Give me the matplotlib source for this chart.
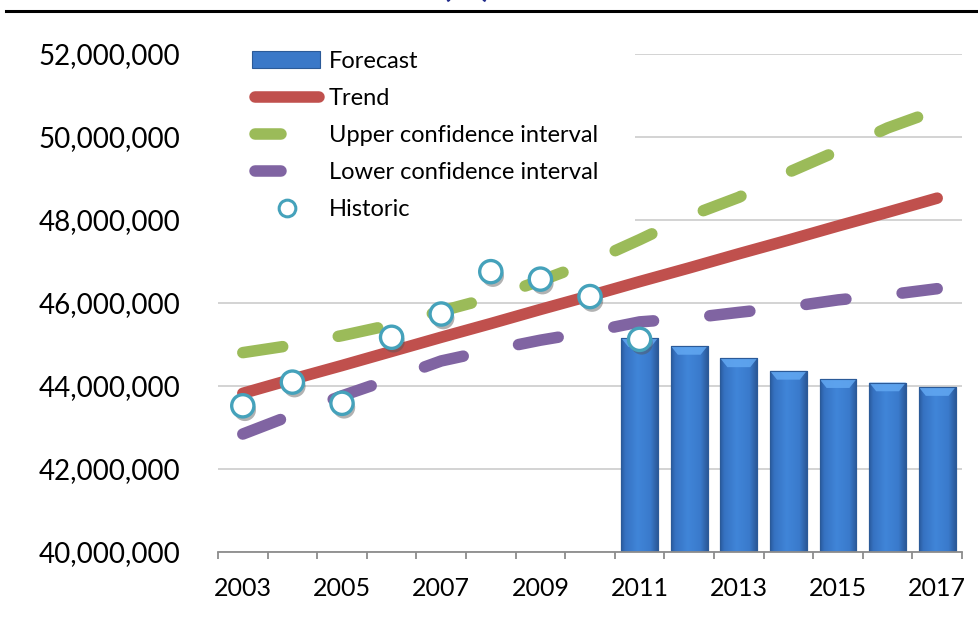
import numpy as np
import matplotlib
matplotlib.use('Agg')
import matplotlib.pyplot as plt
from matplotlib.lines import Line2D
from matplotlib.patches import Rectangle, Polygon
from matplotlib.legend_handler import HandlerLine2D, HandlerPatch
import matplotlib.patheffects as pe
from matplotlib.colors import LinearSegmentedColormap
from matplotlib.ticker import FuncFormatter, MultipleLocator, FixedLocator

plt.rcParams['font.family'] = ['Lato', 'DejaVu Sans']

# ---------------- data ----------------
years = list(range(2003, 2018))
historic_years = list(range(2003, 2012))
historic = [43520000, 44090000, 43580000, 45170000, 45730000,
            46750000, 46570000, 46150000, 45120000]
forecast_years = list(range(2011, 2018))
forecast = [45150000, 44960000, 44660000, 44360000, 44160000, 44080000, 43970000]
trend = [43820000, 44160000, 44490000, 44830000, 45170000, 45500000, 45840000,
         46170000, 46510000, 46840000, 47180000, 47510000, 47850000, 48180000, 48520000]
upper = [44800000, 44980000, 45210000, 45470000, 45800000, 46120000, 46530000,
         46980000, 47520000, 48090000, 48540000, 49140000, 49660000, 50210000, 50640000]
lower = [42840000, 43300000, 43760000, 44170000, 44600000, 44860000, 45100000,
         45300000, 45540000, 45630000, 45770000, 45900000, 46070000, 46190000, 46340000]
tick_years = [2003, 2005, 2007, 2009, 2011, 2013, 2015, 2017]
labels = ['Forecast', 'Trend', 'Upper confidence interval',
          'Lower confidence interval', 'Historic']

# ---------------- style ----------------
RED = '#C0504D'
GREEN = '#9BBB59'
PURPLE = '#8064A2'
BLUE = '#3B7ACA'
LW = 8.3
DASH = (3.5, 4.9)

W, H = 979, 617
fig = plt.figure(figsize=(W / 100, H / 100), dpi=100)
ax = fig.add_axes([218 / W, 1 - 552 / H, 744 / W, (552 - 53.6) / H])

pos = {y: i for i, y in enumerate(years)}
x_all = np.array([pos[y] for y in years])
x_hist = np.array([pos[y] for y in historic_years])
x_fc = np.array([pos[y] for y in forecast_years])

ymin, ymax = 40000000, 52000000
ax.set_xlim(-0.5, len(years) - 0.5)
ax.set_ylim(ymin, ymax)

# bars with gradient
bw = 0.74
bars = ax.bar(x_fc, forecast, width=bw, color=BLUE, edgecolor='#2B5A98',
              linewidth=0.8, zorder=2)
cmap = LinearSegmentedColormap.from_list(
    'barg', [(0, '#2A5A9C'), (0.12, '#3672C2'), (0.45, '#4085D8'),
             (0.8, '#3A7ACB'), (1, '#2A5898')])
grad = np.linspace(0, 1, 256).reshape(1, -1)
for b, xc, v in zip(bars, x_fc, forecast):
    im = ax.imshow(grad, cmap=cmap, aspect='auto',
                   extent=(xc - bw / 2, xc + bw / 2, ymin, v), zorder=2.1,
                   interpolation='bilinear')
    im.set_clip_path(b)
    bev = 0.21e6
    ax.add_patch(Polygon([(xc - bw / 2, v), (xc + bw / 2, v),
                          (xc + bw / 2 - 0.14, v - bev), (xc - bw / 2 + 0.14, v - bev)],
                         closed=True, facecolor='#62A8F2', edgecolor='none',
                         alpha=0.85, zorder=2.2))
    ax.add_patch(Rectangle((xc - bw / 2, ymin), bw, v - ymin, facecolor='none',
                           edgecolor='#2B5A98', lw=0.8, zorder=2.3))
ax.set_xlim(-0.5, len(years) - 0.5)
ax.set_ylim(ymin, ymax)

# lines
ax.plot(x_all, upper, color=GREEN, lw=LW, dashes=DASH,
        dash_capstyle='round', zorder=3)
ax.plot(x_all, lower, color=PURPLE, lw=LW, dashes=DASH,
        dash_capstyle='round', zorder=3)
ax.plot(x_all, trend, color=RED, lw=LW, solid_capstyle='round', zorder=3.5)

# historic markers
ax.scatter(x_hist, historic, s=16.0 ** 2, facecolor='white',
           edgecolor='#45A2BB', linewidth=2.4, zorder=5,
           path_effects=[pe.SimplePatchShadow(offset=(1.5, -3), shadow_rgbFace='#555555',
                                              alpha=0.45), pe.Normal()])

# axes styling
for s in ['left', 'right', 'top']:
    ax.spines[s].set_visible(False)
ax.spines['bottom'].set_color('#8C8C8C')
ax.spines['bottom'].set_linewidth(1.3)
ax.yaxis.set_major_locator(MultipleLocator(2000000))
ax.yaxis.set_major_formatter(FuncFormatter(lambda v, p: f'{v:,.0f}'))
ax.yaxis.grid(True, color='#D0D0D0', lw=1.3)
ax.set_axisbelow(True)
ax.tick_params(axis='y', length=0, pad=27, labelsize=20)
ax.xaxis.set_major_locator(FixedLocator([pos[y] for y in tick_years]))
ax.set_xticklabels([str(y) for y in tick_years])
ax.xaxis.set_minor_locator(FixedLocator(np.arange(-0.5, len(years), 1.0)))
ax.tick_params(axis='x', which='major', length=0, pad=18, labelsize=18)
ax.tick_params(axis='x', which='minor', length=5, width=1.3, color='#8C8C8C')


class ShortLine(HandlerLine2D):
    def __init__(self, frac, **kw):
        super().__init__(**kw)
        self.frac = frac

    def create_artists(self, legend, orig_handle, xdescent, ydescent, width,
                       height, fontsize, trans):
        return super().create_artists(legend, orig_handle, xdescent, ydescent,
                                      width * self.frac, height, fontsize, trans)


def bar_patch(legend, orig_handle, xdescent, ydescent, width, height, fontsize):
    hh = 12.2
    return Rectangle((-xdescent - 2, -ydescent + (height - hh) / 2), width + 2.5, hh)


h_fc = Rectangle((0, 0), 1, 1, facecolor='#3A78C8', edgecolor='#2B5A98', lw=0.8)
h_tr = Line2D([], [], color=RED, lw=LW, solid_capstyle='round')
h_up = Line2D([], [], color=GREEN, lw=LW, solid_capstyle='round')
h_lo = Line2D([], [], color=PURPLE, lw=LW, solid_capstyle='round')
h_hi = Line2D([], [], ls='none', marker='o', markersize=12, markerfacecolor='white',
              markeredgecolor='#45A2BB', markeredgewidth=2.2)
fs = 17
fspx = fs * 100 / 72
leg = ax.legend([h_fc, h_tr, h_up, h_lo, h_hi], labels,
                loc='upper left', bbox_to_anchor=(218 / W, 1 - 14 / H),
                bbox_transform=fig.transFigure, fontsize=fs,
                handlelength=64.5 / fspx, handletextpad=9.75 / fspx,
                borderpad=36.75 / fspx, borderaxespad=0, labelspacing=0.68,
                frameon=True, fancybox=False, framealpha=1,
                handler_map={h_up: ShortLine(0.41), h_lo: ShortLine(0.41),
                             h_fc: HandlerPatch(patch_func=bar_patch)})
leg.get_frame().set_facecolor('white')
leg.get_frame().set_edgecolor('none')
leg.set_zorder(2.5)

# clipped title and rule at the top
fig.text(467 / W, 1 + 3 / H, '(M)', ha='center', va='baseline', color='#1F2A8A',
         fontsize=24, fontweight='bold')
fig.add_artist(Line2D([6 / W, 1], [1 - 11 / H, 1 - 11 / H], color='black', lw=2.2,
                      transform=fig.transFigure))

fig.savefig('out.png', dpi=100)
